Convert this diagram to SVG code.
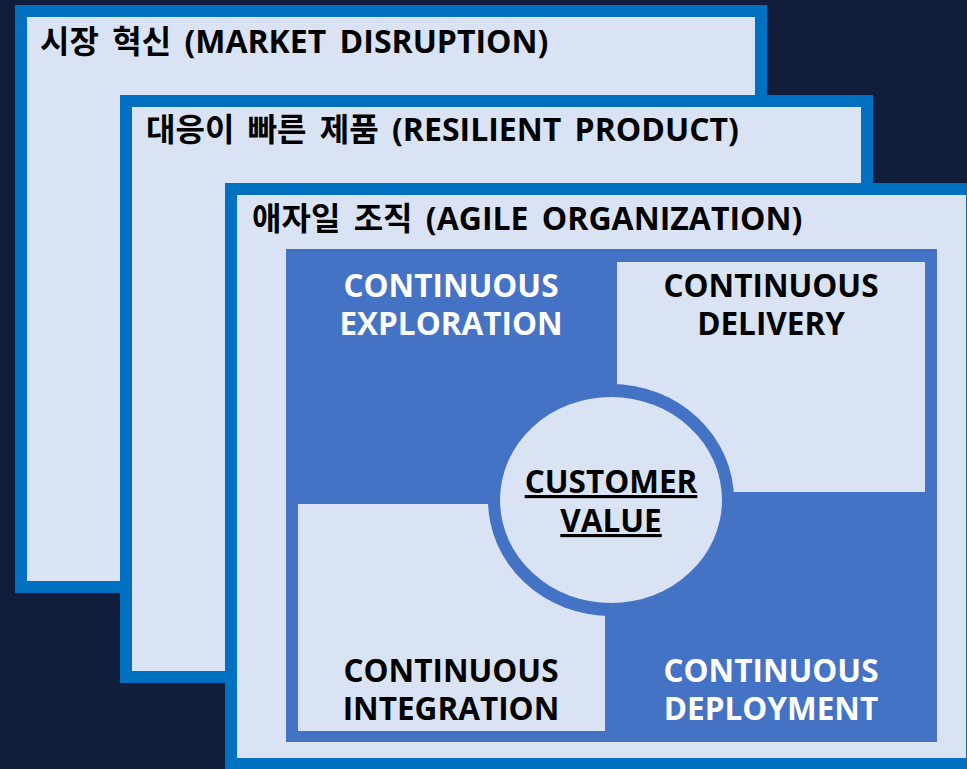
<svg xmlns="http://www.w3.org/2000/svg" width="967" height="769" viewBox="0 0 967 769">
<style>
.frame{fill:#0070c0}
.panel{fill:#dae3f3}
.quad{fill:#4472c4}
.title{font-family:"Open Sans","Noto Sans CJK KR",sans-serif;font-weight:bold;font-size:32px;word-spacing:5px;fill:#000}
.lbl{font-family:"Open Sans","Noto Sans CJK KR",sans-serif;font-weight:bold;font-size:31.5px;text-anchor:middle}
.w{fill:#ffffff}
.k{fill:#000000}
</style>
<rect x="0" y="0" width="967" height="769" fill="#101e3b"/>
<g id="market-disruption">
<rect class="frame" x="15" y="5" width="752" height="588"/>
<rect class="panel" x="27" y="17" width="728" height="564"/>
<text class="title" x="40" y="53">시장 혁신 (MARKET DISRUPTION)</text>
</g>
<g id="resilient-product">
<rect class="frame" x="120" y="95" width="753" height="588"/>
<rect class="panel" x="132" y="107" width="729" height="564"/>
<text class="title" x="146" y="141">대응이 빠른 제품 (RESILIENT PRODUCT)</text>
</g>
<g id="agile-organization">
<rect class="frame" x="225" y="183" width="760" height="600"/>
<rect class="panel" x="237" y="195" width="729" height="563"/>
<text class="title" x="252" y="230">애자일 조직 (AGILE ORGANIZATION)</text>
</g>
<g id="quadrants">
<rect class="quad" x="286" y="249" width="651" height="493"/>
</g>
<g id="continuous-exploration">
<text class="lbl w" x="451" y="297">CONTINUOUS</text>
<text class="lbl w" x="451" y="335">EXPLORATION</text>
</g>
<g id="continuous-delivery">
<rect class="panel" x="617" y="262" width="308" height="230"/>
<text class="lbl k" x="771" y="297">CONTINUOUS</text>
<text class="lbl k" x="771" y="335">DELIVERY</text>
</g>
<g id="continuous-integration">
<rect class="panel" x="298" y="504" width="307" height="227"/>
<text class="lbl k" x="451" y="682">CONTINUOUS</text>
<text class="lbl k" x="451" y="720">INTEGRATION</text>
</g>
<g id="continuous-deployment">
<text class="lbl w" x="771" y="682">CONTINUOUS</text>
<text class="lbl w" x="771" y="720">DEPLOYMENT</text>
</g>
<g id="customer-value">
<ellipse class="quad" cx="611" cy="500" rx="123" ry="116"/>
<ellipse class="panel" cx="611" cy="500" rx="111" ry="103"/>
<text class="lbl k" x="611" y="493" text-decoration="underline">CUSTOMER</text>
<text class="lbl k" x="611" y="532" text-decoration="underline">VALUE</text>
</g>
<g id="connectors"/>
</svg>
